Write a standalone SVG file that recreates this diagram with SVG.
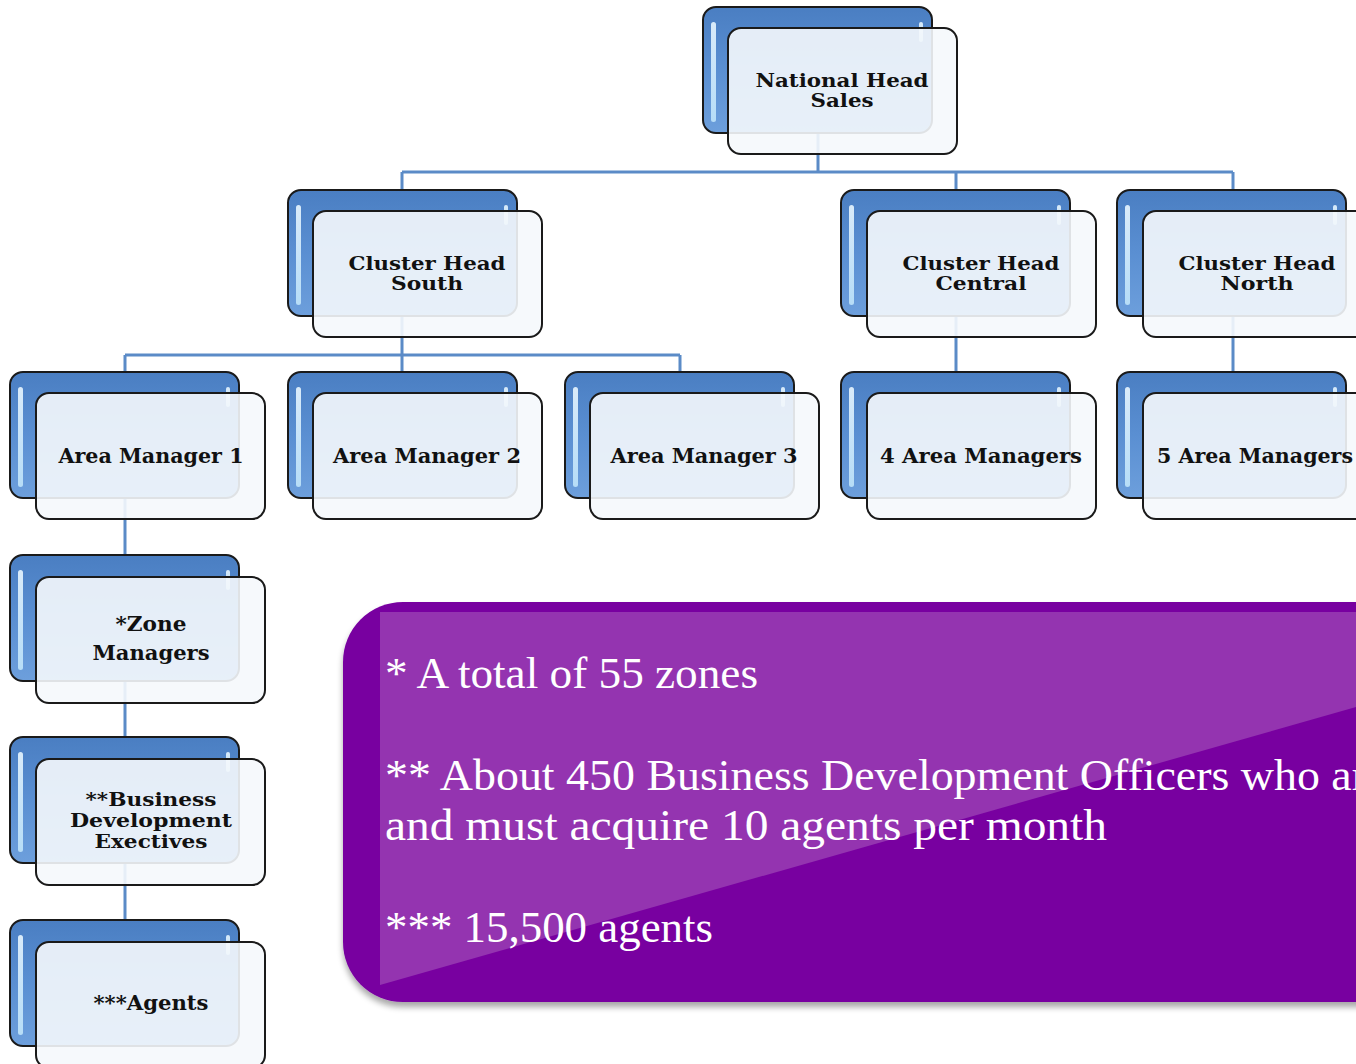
<svg xmlns="http://www.w3.org/2000/svg" width="1356" height="1064" viewBox="0 0 1356 1064">
<defs>
<linearGradient id="blueG" x1="0" y1="0" x2="0" y2="1">
<stop offset="0" stop-color="#4a7ec2"/>
<stop offset="0.5" stop-color="#5a8fd2"/>
<stop offset="1" stop-color="#6d9fdc"/>
</linearGradient>
<linearGradient id="stripG" x1="0" y1="0" x2="0" y2="1">
<stop offset="0" stop-color="#e8f6ff" stop-opacity="0.9"/>
<stop offset="1" stop-color="#bfe4fa" stop-opacity="0.9"/>
</linearGradient>
<filter id="shadow" x="-5%" y="-5%" width="110%" height="115%">
<feGaussianBlur in="SourceAlpha" stdDeviation="3"/>
<feOffset dx="0" dy="5" result="b"/>
<feComponentTransfer><feFuncA type="linear" slope="0.35"/></feComponentTransfer>
<feMerge><feMergeNode/><feMergeNode in="SourceGraphic"/></feMerge>
</filter>
</defs>
<style>
.back{fill:url(#blueG);stroke:#1a1a1a;stroke-width:2}
.strip{fill:url(#stripG)}
.front{fill:#f5f8fc;fill-opacity:0.9;stroke:#1a1a1a;stroke-width:2}
.lbl{font-family:"DejaVu Serif",serif;font-weight:bold;font-size:20px;fill:#111;text-anchor:middle}
.lbl2{font-family:"DejaVu Serif",serif;font-weight:bold;font-size:18px;fill:#111;text-anchor:middle}
.conn{fill:none;stroke:#5b8bc7;stroke-width:3}
.note{font-family:"Liberation Serif","Times New Roman",serif;font-size:45px;fill:#ffffff}
</style>
<rect x="0" y="0" width="1356" height="1064" fill="#ffffff"/>

<g id="connectors">
<path class="conn" d="M818 70 V172 M402 172 H1233 M402 172 V250 M956 172 V250 M1233 172 V250"/>
<path class="conn" d="M402 250 V355 M125 355 H680 M125 355 V430 M402 355 V430 M680 355 V430"/>
<path class="conn" d="M956 250 V430 M1233 250 V430"/>
<path class="conn" d="M125 430 V980"/>
</g>

<g id="n-national">
<rect class="back" x="703" y="7" width="229" height="126" rx="13"/>
<rect class="strip" x="711" y="22" width="5" height="100" rx="2.5"/>
<rect class="strip" x="919" y="22" width="4" height="20" rx="2"/>
<rect class="front" x="728" y="28" width="229" height="126" rx="13"/>
<text class="lbl2"><tspan x="842" y="87" textLength="173" lengthAdjust="spacingAndGlyphs">National Head</tspan><tspan x="842" y="107" textLength="63" lengthAdjust="spacingAndGlyphs">Sales</tspan></text>
</g>

<g id="n-south">
<rect class="back" x="288" y="190" width="229" height="126" rx="13"/>
<rect class="strip" x="296" y="205" width="5" height="100" rx="2.5"/>
<rect class="strip" x="504" y="205" width="4" height="20" rx="2"/>
<rect class="front" x="313" y="211" width="229" height="126" rx="13"/>
<text class="lbl2"><tspan x="427" y="270" textLength="157" lengthAdjust="spacingAndGlyphs">Cluster Head</tspan><tspan x="427" y="290" textLength="72" lengthAdjust="spacingAndGlyphs">South</tspan></text>
</g>

<g id="n-central">
<rect class="back" x="841" y="190" width="229" height="126" rx="13"/>
<rect class="strip" x="849" y="205" width="5" height="100" rx="2.5"/>
<rect class="strip" x="1057" y="205" width="4" height="20" rx="2"/>
<rect class="front" x="867" y="211" width="229" height="126" rx="13"/>
<text class="lbl2"><tspan x="981" y="270" textLength="157" lengthAdjust="spacingAndGlyphs">Cluster Head</tspan><tspan x="981" y="290" textLength="91" lengthAdjust="spacingAndGlyphs">Central</tspan></text>
</g>

<g id="n-north">
<rect class="back" x="1117" y="190" width="229" height="126" rx="13"/>
<rect class="strip" x="1125" y="205" width="5" height="100" rx="2.5"/>
<rect class="strip" x="1333" y="205" width="4" height="20" rx="2"/>
<rect class="front" x="1143" y="211" width="229" height="126" rx="13"/>
<text class="lbl2"><tspan x="1257" y="270" textLength="157" lengthAdjust="spacingAndGlyphs">Cluster Head</tspan><tspan x="1257" y="290" textLength="73" lengthAdjust="spacingAndGlyphs">North</tspan></text>
</g>

<g id="n-am1">
<rect class="back" x="10" y="372" width="229" height="126" rx="13"/>
<rect class="strip" x="18" y="387" width="5" height="100" rx="2.5"/>
<rect class="strip" x="226" y="387" width="4" height="20" rx="2"/>
<rect class="front" x="36" y="393" width="229" height="126" rx="13"/>
<text class="lbl" x="151" y="463" textLength="185" lengthAdjust="spacingAndGlyphs">Area Manager 1</text>
</g>

<g id="n-am2">
<rect class="back" x="288" y="372" width="229" height="126" rx="13"/>
<rect class="strip" x="296" y="387" width="5" height="100" rx="2.5"/>
<rect class="strip" x="504" y="387" width="4" height="20" rx="2"/>
<rect class="front" x="313" y="393" width="229" height="126" rx="13"/>
<text class="lbl" x="427" y="463" textLength="188" lengthAdjust="spacingAndGlyphs">Area Manager 2</text>
</g>

<g id="n-am3">
<rect class="back" x="565" y="372" width="229" height="126" rx="13"/>
<rect class="strip" x="573" y="387" width="5" height="100" rx="2.5"/>
<rect class="strip" x="781" y="387" width="4" height="20" rx="2"/>
<rect class="front" x="590" y="393" width="229" height="126" rx="13"/>
<text class="lbl" x="704" y="463" textLength="187" lengthAdjust="spacingAndGlyphs">Area Manager 3</text>
</g>

<g id="n-am4">
<rect class="back" x="841" y="372" width="229" height="126" rx="13"/>
<rect class="strip" x="849" y="387" width="5" height="100" rx="2.5"/>
<rect class="strip" x="1057" y="387" width="4" height="20" rx="2"/>
<rect class="front" x="867" y="393" width="229" height="126" rx="13"/>
<text class="lbl" x="981" y="463" textLength="202" lengthAdjust="spacingAndGlyphs">4 Area Managers</text>
</g>

<g id="n-am5">
<rect class="back" x="1117" y="372" width="229" height="126" rx="13"/>
<rect class="strip" x="1125" y="387" width="5" height="100" rx="2.5"/>
<rect class="strip" x="1333" y="387" width="4" height="20" rx="2"/>
<rect class="front" x="1143" y="393" width="229" height="126" rx="13"/>
<text class="lbl" x="1255" y="463" textLength="196" lengthAdjust="spacingAndGlyphs">5 Area Managers</text>
</g>

<g id="n-zone">
<rect class="back" x="10" y="555" width="229" height="126" rx="13"/>
<rect class="strip" x="18" y="570" width="5" height="100" rx="2.5"/>
<rect class="strip" x="226" y="570" width="4" height="20" rx="2"/>
<rect class="front" x="36" y="577" width="229" height="126" rx="13"/>
<text class="lbl"><tspan x="151" y="631" textLength="71" lengthAdjust="spacingAndGlyphs">*Zone</tspan><tspan x="151" y="660" textLength="117" lengthAdjust="spacingAndGlyphs">Managers</tspan></text>
</g>

<g id="n-bde">
<rect class="back" x="10" y="737" width="229" height="126" rx="13"/>
<rect class="strip" x="18" y="752" width="5" height="100" rx="2.5"/>
<rect class="strip" x="226" y="752" width="4" height="20" rx="2"/>
<rect class="front" x="36" y="759" width="229" height="126" rx="13"/>
<text class="lbl2"><tspan x="151" y="806" textLength="131" lengthAdjust="spacingAndGlyphs">**Business</tspan><tspan x="151" y="827" textLength="162" lengthAdjust="spacingAndGlyphs">Development</tspan><tspan x="151" y="848" textLength="113" lengthAdjust="spacingAndGlyphs">Exectives</tspan></text>
</g>

<g id="n-agents">
<rect class="back" x="10" y="920" width="229" height="126" rx="13"/>
<rect class="strip" x="18" y="935" width="5" height="100" rx="2.5"/>
<rect class="strip" x="226" y="935" width="4" height="20" rx="2"/>
<rect class="front" x="36" y="942" width="229" height="126" rx="13"/>
<text class="lbl" x="151" y="1010" textLength="115" lengthAdjust="spacingAndGlyphs">***Agents</text>
</g>

<g id="notes">
<path d="M403 602 H1420 V1002 H403 A60 60 0 0 1 343 942 V662 A60 60 0 0 1 403 602 Z" fill="#7800a0" filter="url(#shadow)"/>
<polygon points="380,612 1356,612 1356,707 380,985" fill="#9434b0"/>
<text class="note" x="385" y="688" textLength="373" lengthAdjust="spacingAndGlyphs">* A total of 55 zones</text>
<text class="note" x="385" y="790" textLength="982" lengthAdjust="spacingAndGlyphs">** About 450 Business Development Officers who ar</text>
<text class="note" x="385" y="840" textLength="722" lengthAdjust="spacingAndGlyphs">and must acquire 10 agents per month</text>
<text class="note" x="385" y="942" textLength="328" lengthAdjust="spacingAndGlyphs">*** 15,500 agents</text>
</g>
</svg>
